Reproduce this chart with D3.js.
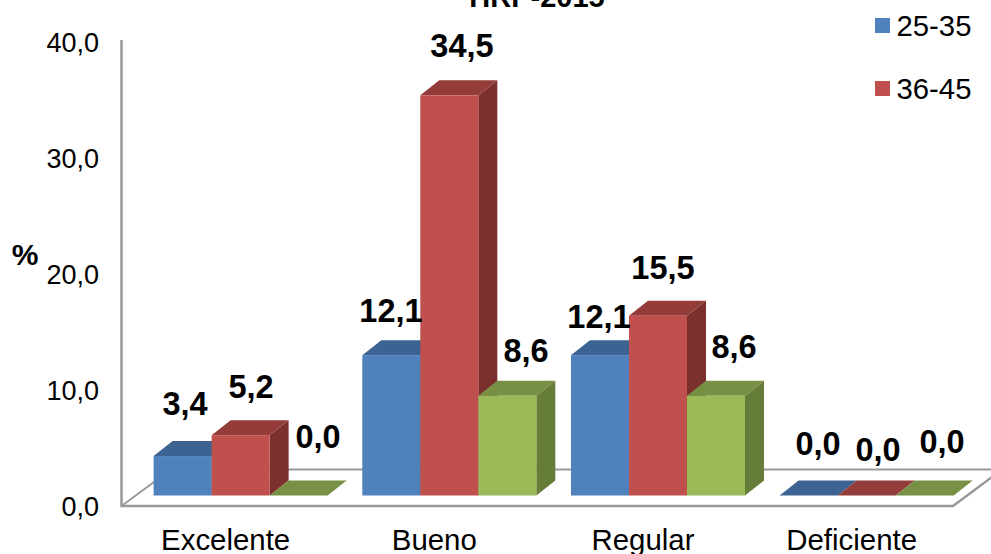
<!DOCTYPE html>
<html><head><meta charset="utf-8">
<script src="https://cdn.jsdelivr.net/npm/d3@7"></script>
<style>html,body{margin:0;padding:0;background:#fff}svg{display:block}text{font-family:"Liberation Sans",Arial,sans-serif;fill:#000}</style>
</head><body><svg id="c" width="991" height="554"></svg>
<script>
const categories = ["Excelente","Bueno","Regular","Deficiente"];
const seriesNames = ["25-35","36-45","46-55"];
const seriesA = [3.4,12.1,12.1,0.0];
const seriesB = [5.2,34.5,15.5,0.0];
const seriesC = [0.0,8.6,8.6,0.0];
const yTicks = [0,10,20,30,40];
const faceColors = ["#4f81bd","#c0504d","#9bbb59"];
const topColors = ["#3c6391","#933c3a","#779044"];
const sideColors = ["#2f4e72","#7b302e","#667d3a"];
const labelOffsets = [
  [[185,404],[251,387],[318,437]],
  [[391,311],[462,46],[526,351]],
  [[599,317],[663,268],[734,347]],
  [[818,444],[878,450],[942,442]]
];
const fmt = v => v.toFixed(1).replace(".",",");
const svg = d3.select("#c");
const dx = 19, dy = -15;
const yAxis = d3.scaleLinear().domain([0,40]).range([506,42]);
const yBar = d3.scaleLinear().domain([0,40]).range([495.5,31.5]);
const xGroup = d3.scaleBand().domain(categories).range([136.3,971]).paddingInner(0.166).paddingOuter(0.083);
const xBar = d3.scaleBand().domain([0,1,2]).range([0,xGroup.bandwidth()]);

// walls and floor
const grey = "#999999";
const axisG = svg.append("g").attr("fill","none").attr("stroke",grey).attr("stroke-width",2.5);
axisG.append("path").attr("d",`M121.5,${yAxis(40)-2}V${yAxis(0)}H953L992,${yAxis(0)-29}`);
axisG.append("path").attr("d",`M121.5,${yAxis(0)}L171,${yAxis(0)-36.5}H992`).attr("stroke-width",1.8);

// y ticks
svg.append("g").selectAll("text").data(yTicks).join("text")
  .attr("x",99).attr("y",d=>yAxis(d)+9.5).attr("text-anchor","end").attr("font-size",27)
  .text(fmt);
svg.append("text").attr("x",25).attr("y",265).attr("text-anchor","middle").attr("font-size",30).attr("font-weight","bold").text("%");
svg.append("g").selectAll("text").data(categories).join("text")
  .attr("x",d=>xGroup(d)+xGroup.bandwidth()/2-15).attr("y",550).attr("text-anchor","middle").attr("font-size",29.4)
  .text(d=>d);

// title
svg.append("text").attr("x",537).attr("y",7).attr("text-anchor","middle").attr("font-size",29).attr("font-weight","bold").text("HRP-2015");

// bars
const rows = categories.flatMap((c,i)=>[seriesA[i],seriesB[i],seriesC[i]].map((v,s)=>({c,i,s,v})));
const bars = svg.append("g").selectAll("g").data(rows).join("g");
bars.append("path").attr("fill",d=>sideColors[d.s]).attr("d",d=>{
  const x=xGroup(d.c)+xBar(d.s)+xBar.bandwidth(), t=yBar(d.v), b=yBar(0);
  return `M${x},${t}l${dx},${dy}V${b+dy}L${x},${b}Z`;
});
bars.append("path").attr("fill",d=>topColors[d.s]).attr("d",d=>{
  const x=xGroup(d.c)+xBar(d.s), w=xBar.bandwidth(), t=yBar(d.v);
  return `M${x},${t}l${dx},${dy}h${w}l${-dx},${-dy}Z`;
});
bars.append("rect").attr("fill",d=>faceColors[d.s])
  .attr("x",d=>xGroup(d.c)+xBar(d.s)).attr("width",xBar.bandwidth())
  .attr("y",d=>yBar(d.v)).attr("height",d=>yBar(0)-yBar(d.v));
// value labels
svg.append("g").selectAll("text").data(rows).join("text")
  .attr("x",d=>labelOffsets[d.i][d.s][0]).attr("y",d=>labelOffsets[d.i][d.s][1]+11)
  .attr("text-anchor","middle").attr("font-size",32.5).attr("font-weight","bold").text(d=>fmt(d.v));

// legend
const leg = svg.append("g").selectAll("g").data(seriesNames.slice(0,2)).join("g");
leg.append("rect").attr("x",875).attr("y",(d,i)=>18+i*63).attr("width",15).attr("height",15).attr("fill",(d,i)=>faceColors[i]);
leg.append("text").attr("x",896.5).attr("y",(d,i)=>36+i*63).attr("font-size",29.3).text(d=>d);
</script></body></html>
